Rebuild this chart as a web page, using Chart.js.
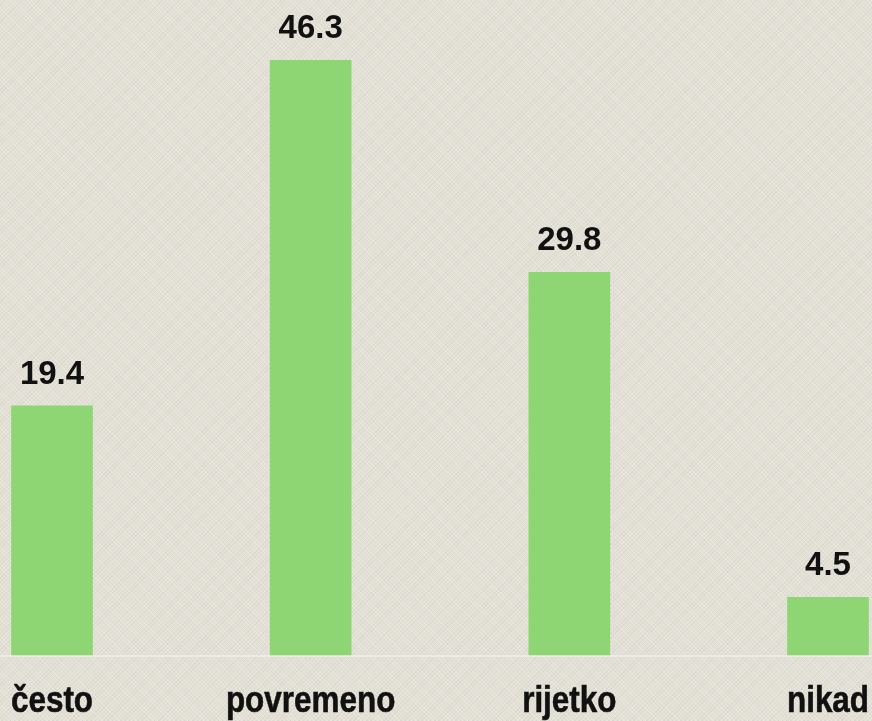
<!DOCTYPE html>
<html lang="hr">
<head>
    <meta charset="UTF-8">
    <title>Chart</title>
    <script src="https://cdn.jsdelivr.net/npm/chart.js@4.4.1/dist/chart.umd.min.js"></script>
    <style>
        html, body {
            margin: 0;
            padding: 0;
        }
        body {
            width: 872px;
            height: 721px;
            overflow: hidden;
            background-color: #e3e0d6;
            /* platnena tekstura */
            background-image:
                repeating-linear-gradient(45deg, rgba(255,255,255,0.18) 0 1px, transparent 1px 3px),
                repeating-linear-gradient(-45deg, rgba(120,110,90,0.07) 0 1px, transparent 1px 3px);
        }
        .chart_box {
            position: relative;
            width: 872px;
            height: 721px;
        }
    </style>
</head>
<body>
<div class="chart_box">
    <canvas id="myChart"></canvas>
</div>
<script>
    const categories = ['često', 'povremeno', 'rijetko', 'nikad'];
    const values = [19.4, 46.3, 29.8, 4.5];

    // brojke iznad stupaca + nazivi kategorija (uski bold)
    const barTexts = {
        id: 'barTexts',
        afterDatasetsDraw(chart) {
            const ctx = chart.ctx;
            const meta = chart.getDatasetMeta(0);
            const xs = chart.scales.x;
            const base = chart.scales.y.getPixelForValue(0);
            ctx.save();
            ctx.fillStyle = '#111';
            ctx.strokeStyle = '#111';
            ctx.textAlign = 'center';
            ctx.textBaseline = 'alphabetic';
            ctx.font = 'bold 33px "Liberation Sans", Arial, sans-serif';
            meta.data.forEach((bar, i) => {
                ctx.fillText(values[i].toFixed(1), bar.x, bar.y - 22);
            });
            ctx.font = 'bold 37px "Liberation Sans", Arial, sans-serif';
            ctx.lineWidth = 0.6;
            categories.forEach((c, i) => {
                const x = xs.getPixelForValue(i);
                ctx.save();
                ctx.translate(x, base + 57);
                ctx.scale(0.85, 1);
                ctx.fillText(c, 0, 0);
                ctx.strokeText(c, 0, 0);
                ctx.restore();
            });
            ctx.restore();
        }
    };

    // svijetla osnovna linija preko cijele sirine
    const baseLine = {
        id: 'baseLine',
        beforeDatasetsDraw(chart) {
            const ctx = chart.ctx;
            const y = chart.scales.y.getPixelForValue(0);
            ctx.save();
            ctx.strokeStyle = '#ecebe7';
            ctx.lineWidth = 2;
            ctx.beginPath();
            ctx.moveTo(0, y + 1);
            ctx.lineTo(chart.width, y + 1);
            ctx.stroke();
            ctx.restore();
        }
    };

    var ctx1 = document.getElementById('myChart').getContext('2d');
    var myChart = new Chart(ctx1, {
        type: 'bar',
        data: {
            labels: categories,
            datasets: [{
                data: values,
                backgroundColor: '#8ed674',
                barThickness: 81,
                clip: false
            }]
        },
        options: {
            responsive: true,
            maintainAspectRatio: false,
            animation: false,
            layout: {
                padding: { left: 52, right: 44, top: 0, bottom: 66 }
            },
            plugins: {
                legend: { display: false },
                tooltip: { enabled: false }
            },
            scales: {
                x: {
                    display: false,
                    offset: false
                },
                y: {
                    display: false,
                    min: 0,
                    max: 51
                }
            }
        },
        plugins: [baseLine, barTexts]
    });
</script>
</body>
</html>
